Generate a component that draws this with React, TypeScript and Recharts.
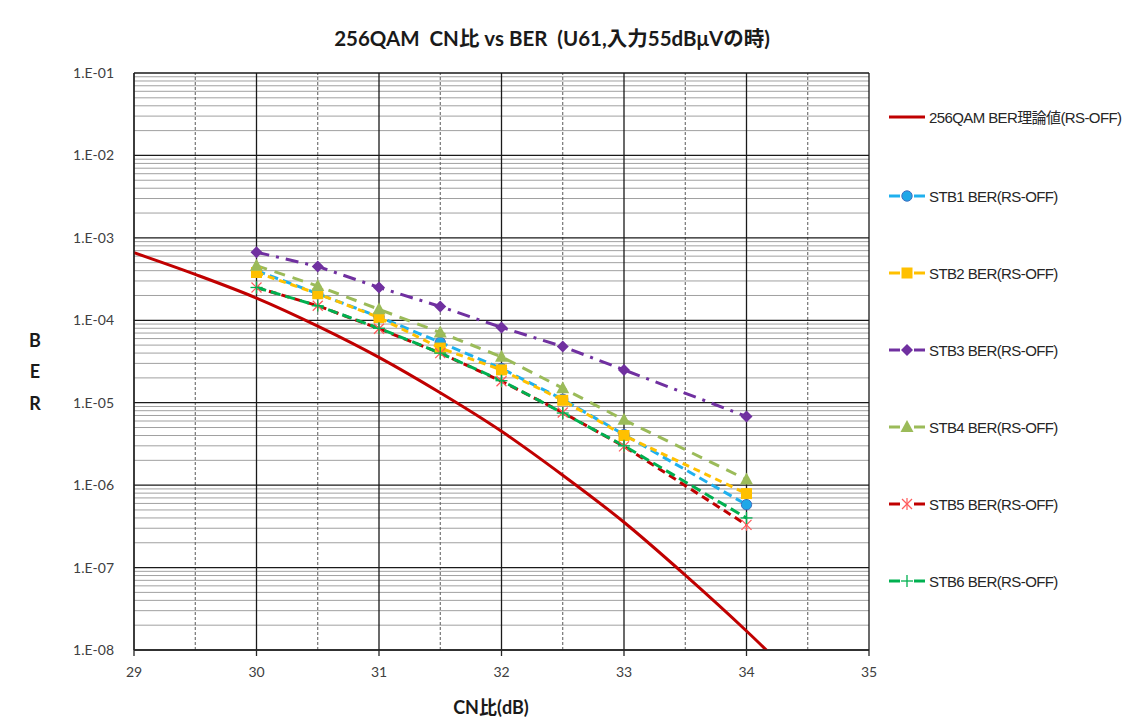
import React from 'react';
import { LineChart, Line, XAxis, YAxis, ReferenceLine, Customized } from 'recharts';

// ---- data ----
const cnTheory = [29, 29.5, 30, 30.5, 31, 31.5, 32, 32.5, 33, 33.5, 34, 34.5];
const berTheory = [6.6e-4, 3.6e-4, 1.86e-4, 8.5e-5, 3.55e-5, 1.32e-5, 4.5e-6, 1.32e-6, 3.55e-7, 8.1e-8, 1.7e-8, 3.2e-9];

const cnMeas = [30, 30.5, 31, 31.5, 32, 32.5, 33, 34];
const stb1 = [4.0e-4, 2.1e-4, 1.1e-4, 5.4e-5, 2.6e-5, 1.1e-5, 4.1e-6, 5.8e-7];
const stb2 = [3.8e-4, 2.1e-4, 1.08e-4, 4.6e-5, 2.5e-5, 1.07e-5, 4.0e-6, 7.9e-7];
const stb3 = [6.7e-4, 4.5e-4, 2.5e-4, 1.47e-4, 8.2e-5, 4.8e-5, 2.5e-5, 6.8e-6];
const stb4 = [4.6e-4, 2.6e-4, 1.36e-4, 7.1e-5, 3.6e-5, 1.5e-5, 6.2e-6, 1.17e-6];
const stb5 = [2.5e-4, 1.5e-4, 7.9e-5, 4.0e-5, 1.82e-5, 7.6e-6, 2.95e-6, 3.3e-7];
const stb6 = [2.5e-4, 1.5e-4, 8.0e-5, 4.0e-5, 1.85e-5, 7.5e-6, 3.0e-6, 4.0e-7];

const xTicks = [29, 30, 31, 32, 33, 34, 35];
const xHalf = [29.5, 30.5, 31.5, 32.5, 33.5, 34.5];
const yDecades = [1e-1, 1e-2, 1e-3, 1e-4, 1e-5, 1e-6, 1e-7, 1e-8];
const minorMult = [2, 3, 4, 5, 6, 7, 8, 9];

const titleText = '256QAM  CN比 vs BER  (U61,入力55dBμVの時)';
const xLabel = 'CN比(dB)';
const yLabel = ['B', 'E', 'R'];

const names = [
  '256QAM BER理論値(RS-OFF)',
  'STB1 BER(RS-OFF)',
  'STB2 BER(RS-OFF)',
  'STB3 BER(RS-OFF)',
  'STB4 BER(RS-OFF)',
  'STB5 BER(RS-OFF)',
  'STB6 BER(RS-OFF)',
];

const yMinor: number[] = [];
yDecades.slice(1).forEach((d) => minorMult.forEach((m) => yMinor.push(d * m)));

const toPts = (xs: number[], ys: number[]) => xs.map((x, i) => ({ x, y: ys[i] }));

type Kind = 'none' | 'circle' | 'square' | 'diamond' | 'triangle' | 'star' | 'plus';

interface SeriesCfg {
  name: string;
  data: { x: number; y: number }[];
  color: string;
  dash?: string;
  marker: Kind;
  markerColor: string;
  curve: 'monotone' | 'linear';
}

const series: SeriesCfg[] = [
  { name: names[0], data: toPts(cnTheory, berTheory), color: '#C00000', marker: 'none', markerColor: '#C00000', curve: 'monotone' },
  { name: names[1], data: toPts(cnMeas, stb1), color: '#1FB0EE', dash: '9 5', marker: 'circle', markerColor: '#1FA7E8', curve: 'linear' },
  { name: names[2], data: toPts(cnMeas, stb2), color: '#FFC000', dash: '7 5', marker: 'square', markerColor: '#FFC000', curve: 'linear' },
  { name: names[3], data: toPts(cnMeas, stb3), color: '#7030A0', dash: '13 7 3 7', marker: 'diamond', markerColor: '#7030A0', curve: 'linear' },
  { name: names[4], data: toPts(cnMeas, stb4), color: '#9BBB59', dash: '11 8', marker: 'triangle', markerColor: '#9BBB59', curve: 'linear' },
  { name: names[5], data: toPts(cnMeas, stb5), color: '#C00000', dash: '8 5', marker: 'star', markerColor: '#FF5A5A', curve: 'linear' },
  { name: names[6], data: toPts(cnMeas, stb6), color: '#00B050', dash: '10 5', marker: 'plus', markerColor: '#00B050', curve: 'linear' },
];

const renderMarker = (kind: Kind, cx: number, cy: number, color: string, key?: string) => {
  switch (kind) {
    case 'circle':
      return <circle key={key} cx={cx} cy={cy} r={5.2} fill={color} stroke="#3F6FC0" strokeWidth={1} />;
    case 'square':
      return <rect key={key} x={cx - 5.5} y={cy - 5.5} width={11} height={11} fill={color} />;
    case 'diamond':
      return <path key={key} d={`M${cx},${cy - 6} L${cx + 6},${cy} L${cx},${cy + 6} L${cx - 6},${cy} Z`} fill={color} />;
    case 'triangle':
      return <path key={key} d={`M${cx},${cy - 7} L${cx + 6.5},${cy + 5} L${cx - 6.5},${cy + 5} Z`} fill={color} />;
    case 'star':
      return (
        <g key={key} stroke={color} strokeWidth={1.2}>
          <line x1={cx - 5} y1={cy - 5} x2={cx + 5} y2={cy + 5} />
          <line x1={cx - 5} y1={cy + 5} x2={cx + 5} y2={cy - 5} />
          <line x1={cx} y1={cy - 6} x2={cx} y2={cy + 6} />
        </g>
      );
    case 'plus':
      return (
        <g key={key} stroke={color} strokeWidth={1.3}>
          <line x1={cx - 6} y1={cy} x2={cx + 6} y2={cy} />
          <line x1={cx} y1={cy - 6} x2={cx} y2={cy + 6} />
        </g>
      );
    default:
      return <g key={key} />;
  }
};

const TICK_FONT = "Lato, 'Noto Sans', sans-serif";
const TITLE_FONT = "Lato, 'Noto Sans CJK JP', sans-serif";
const LEGEND_FONT = "'Liberation Sans', Arial, 'Noto Sans CJK JP', sans-serif";

const legendX = 883;
const legendRows = [109, 188, 265, 342, 419, 496, 573];

const LegendBox = () => (
  <g>
    {series.map((s, i) => {
      const y = legendRows[i];
      return (
        <g key={s.name}>
          {s.marker === 'none' ? (
            <line x1={legendX} y1={y} x2={legendX + 36} y2={y} stroke={s.color} strokeWidth={3} />
          ) : (
            <g>
              <line x1={legendX} y1={y} x2={legendX + 11} y2={y} stroke={s.color} strokeWidth={3} />
              <line x1={legendX + 25} y1={y} x2={legendX + 36} y2={y} stroke={s.color} strokeWidth={3} />
              {renderMarker(s.marker, legendX + 18, y, s.markerColor)}
            </g>
          )}
          <text
            x={legendX + 40}
            y={y + 5.5}
            style={{ fontFamily: LEGEND_FONT, fontSize: 15, fill: '#262626', letterSpacing: -0.6 }}
          >
            {s.name}
          </text>
        </g>
      );
    })}
  </g>
);

const StaticTexts = () => (
  <g>
    <text
      x={546}
      y={38}
      textAnchor="middle"
      style={{ fontFamily: TITLE_FONT, fontWeight: 700, fontSize: 20.5, fill: '#1a1a1a', whiteSpace: 'pre' }}
    >
      {titleText}
    </text>
    <text
      x={485}
      y={706}
      textAnchor="middle"
      style={{ fontFamily: TITLE_FONT, fontWeight: 700, fontSize: 18, fill: '#1a1a1a' }}
    >
      {xLabel}
    </text>
    {yLabel.map((c, i) => (
      <text
        key={c}
        x={29}
        y={338.5 + i * 31.5}
        textAnchor="middle"
        style={{ fontFamily: TITLE_FONT, fontWeight: 700, fontSize: 18, fill: '#1a1a1a' }}
      >
        {c}
      </text>
    ))}
    <LegendBox />
  </g>
);

const fmtY = (v: number) => {
  const e = Math.round(-Math.log10(v));
  return '1.E-' + String(e).padStart(2, '0');
};

export default function App() {
  return (
    <div
      style={{
        position: 'relative',
        marginLeft: -3,
        marginTop: -1,
        width: 1132,
        height: 718,
        border: '1px solid #BFBFBF',
        background: '#fff',
      }}
    >
      <LineChart width={1132} height={718} margin={{ top: 65, right: 269, bottom: 46, left: 58 }}>
        <XAxis
          dataKey="x"
          type="number"
          domain={[29, 35]}
          ticks={xTicks}
          allowDataOverflow
          tickSize={6}
          tickMargin={11}
          axisLine={{ stroke: '#262626', strokeWidth: 1.3 }}
          tickLine={{ stroke: '#262626', strokeWidth: 1.3 }}
          tick={{ fontFamily: TICK_FONT, fontSize: 14, fill: '#404040' }}
          height={30}
        />
        <YAxis
          dataKey="y"
          scale="log"
          domain={[1e-8, 1e-1]}
          ticks={yDecades}
          allowDataOverflow
          tickFormatter={fmtY}
          tickLine={false}
          tickMargin={14}
          axisLine={{ stroke: '#262626', strokeWidth: 1.3 }}
          tick={{ fontFamily: TICK_FONT, fontSize: 14, fill: '#404040' }}
          width={70}
        />
        {yMinor.map((v) => (
          <ReferenceLine key={'ym' + v} y={v} stroke="#A0A0A0" strokeWidth={1} />
        ))}
        {xHalf.map((v) => (
          <ReferenceLine key={'xh' + v} x={v} stroke="#595959" strokeWidth={1} strokeDasharray="3 2" />
        ))}
        {yDecades.map((v) => (
          <ReferenceLine key={'yd' + v} y={v} stroke="#1a1a1a" strokeWidth={1.3} />
        ))}
        {xTicks.map((v) => (
          <ReferenceLine key={'xt' + v} x={v} stroke="#1a1a1a" strokeWidth={1.3} />
        ))}
        {series.map((s) => (
          <Line
            key={s.name}
            data={s.data}
            dataKey="y"
            name={s.name}
            type={s.curve}
            stroke={s.color}
            strokeWidth={3}
            strokeDasharray={s.dash}
            isAnimationActive={false}
            activeDot={false}
            dot={
              s.marker === 'none'
                ? false
                : (p: any) => renderMarker(s.marker, p.cx, p.cy, s.markerColor, s.name + '-' + p.index)
            }
          />
        ))}
        <Customized component={StaticTexts} />
      </LineChart>
    </div>
  );
}
